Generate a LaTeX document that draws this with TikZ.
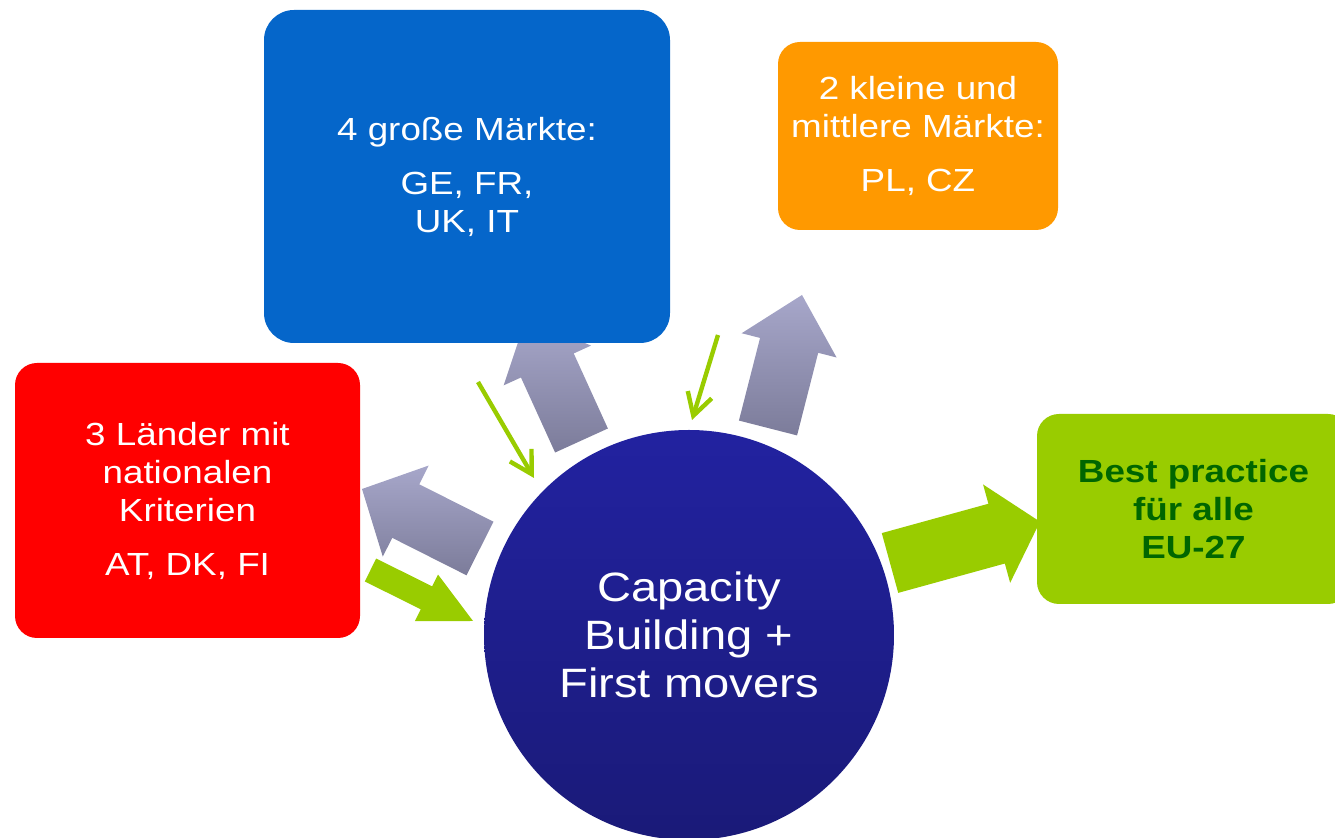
\documentclass[tikz,border=0pt]{standalone}
\usepackage{fontspec}
\setmainfont[FakeStretch=1.15]{Liberation Sans}
\usetikzlibrary{calc,arrows.meta}
\definecolor{mktblue}{HTML}{0566CA}
\definecolor{mktorange}{HTML}{FF9900}
\definecolor{mktred}{HTML}{FF0000}
\definecolor{mktgreen}{HTML}{99CC00}
\definecolor{mkttext}{HTML}{006600}
\definecolor{coretop}{HTML}{2222A0}
\definecolor{corebot}{HTML}{1A1A78}
\definecolor{flowtop}{HTML}{A7A7CA}
\definecolor{flowbot}{HTML}{7C7C9A}
% #1 style, #2 tail, #3 tip, #4 half shaft, #5 half head, #6 head length
\newcommand\blockarrow[6]{%
\path[#1] ($(#2)!#4!90:(#3)$) -- ($($(#3)!#6!(#2)$)!#4!90:(#3)$)
  -- ($($(#3)!#6!(#2)$)!#5!90:(#3)$) -- (#3)
  -- ($($(#3)!#6!(#2)$)!#5!-90:(#3)$) -- ($($(#3)!#6!(#2)$)!#4!-90:(#3)$)
  -- ($(#2)!#4!-90:(#3)$) -- cycle;}
\begin{document}
\begin{tikzpicture}[x=0.5pt,y=-0.5pt,
  box/.style={rounded corners=11pt,inner sep=0pt,align=center,text=white,
    font=\fontsize{16}{19}\selectfont},
  flow/.style={top color=flowtop,bottom color=flowbot,draw=none},
  push/.style={fill=mktgreen},
  hint/.style={draw=mktgreen,line width=2.2pt,-{Straight Barb[length=11pt,width=12.5pt]}}]
\clip (0,0) rectangle (1335,838);
\coordinate (toGrossT) at (581.5,440.5);
\coordinate (toGrossE) at (526,318.6);
\coordinate (toKleinT) at (768,428);
\coordinate (toKleinE) at (802,295);
\coordinate (toLandT) at (480,548.5);
\coordinate (toLandE) at (362,489);
\coordinate (fromLandT) at (370.5,570);
\coordinate (fromLandE) at (473,621);
\coordinate (toBestT) at (890,563);
\coordinate (toBestE) at (1040,521.7);
\coordinate (hintAs) at (478,382);
\coordinate (hintAe) at (534,478);
\coordinate (hintBs) at (718,335);
\coordinate (hintBe) at (692,420);
\blockarrow{flow}{toGrossT}{toGrossE}{14.5pt}{24pt}{25.75pt}
\blockarrow{flow}{toKleinT}{toKleinE}{15pt}{24.5pt}{26pt}
\blockarrow{flow}{toLandT}{toLandE}{15pt}{25.5pt}{24.5pt}
\blockarrow{push}{fromLandT}{fromLandE}{6.4pt}{13pt}{26pt}
\blockarrow{push}{toBestT}{toBestE}{15.5pt}{25.5pt}{22.5pt}
\node[box,fill=mktblue,rounded corners=15pt,minimum width=203pt,minimum height=166.5pt]
  (gross) at (467,176.5) {4 große Märkte:\\[8pt] GE, FR,\\ UK, IT};
\node[box,fill=mktorange,minimum width=140pt,minimum height=94pt]
  (klein) at (918,136) {2 kleine und\\ mittlere Märkte:\\[8pt] PL, CZ};
\node[box,fill=mktred,minimum width=172.5pt,minimum height=137.5pt]
  (land) at (187.5,500.5) {3 Länder mit\\ nationalen\\ Kriterien\\[8pt] AT, DK, FI};
\node[box,fill=mktgreen,text=mkttext,minimum width=156.5pt,minimum height=95pt,
  font=\fontsize{16}{19}\selectfont\bfseries]
  (best) at (1193.5,509) {Best practice\\ für alle\\ EU-27};
\node[circle,inner sep=0pt,minimum size=205pt,top color=coretop,bottom color=corebot,
  align=center,text=white,font=\fontsize{20.5}{24}\selectfont]
  (core) at (689,635) {Capacity\\ Building +\\ First movers};
\draw[hint] (hintAs) -- (hintAe);
\draw[hint] (hintBs) -- (hintBe);
\end{tikzpicture}
\end{document}
